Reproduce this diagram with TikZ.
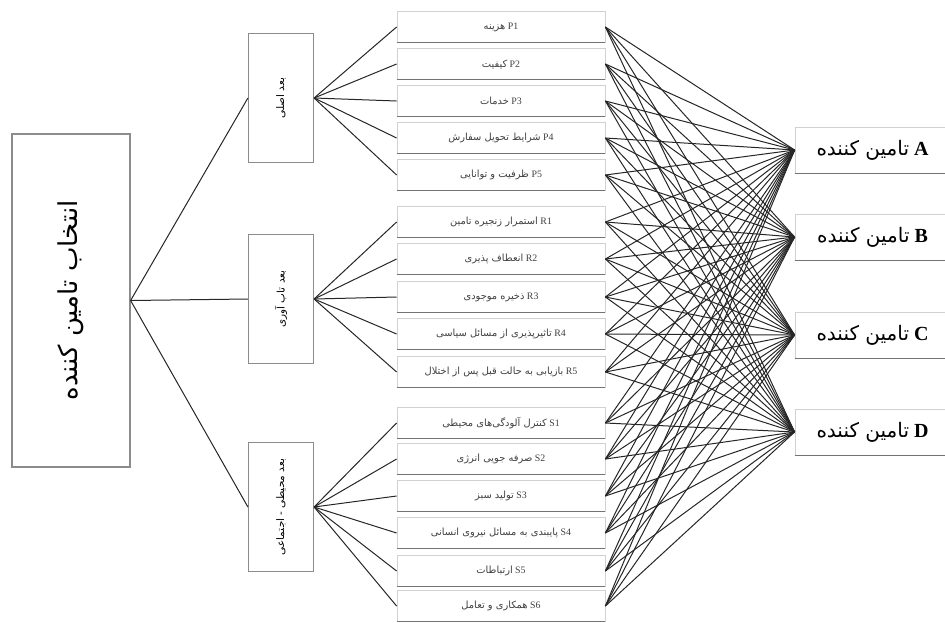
\documentclass[tikz,border=0pt]{standalone}
\usepackage{fontspec}
\usepackage{graphicx}
\setmainfont{Liberation Serif}
\newfontfamily\fa[Script=Arabic]{DejaVu Sans}
\TeXXeTstate=1
\newcommand\critlabel[2]{{\fa\beginR #1\endR}\ #2}
\newcommand\suplabel[1]{{\fa\beginR تامین کننده\endR}\ \textbf{#1}}
\tikzset{
  rootbox/.style={draw=black!45, line width=0.9pt, fill=white, minimum width=88.5pt, minimum height=249.75pt, inner sep=0pt},
  dimbox/.style={draw=black!45, line width=0.9pt, fill=white, minimum width=48.75pt, minimum height=96.75pt, inner sep=0pt},
  critbox/.style={draw=black!18, line width=0.6pt, fill=white, minimum width=156pt, minimum height=23.25pt, inner sep=0pt, text=black!75, font=\fontsize{7.4}{8.5}\selectfont},
  supbox/.style={draw=black!18, line width=0.6pt, fill=white, minimum width=116.25pt, minimum height=34.5pt, inner sep=0pt, font=\fontsize{15}{17}\selectfont},
  shade line/.style={draw=black!55, line width=0.8pt},
  link/.style={draw=black!85, line width=0.75pt},
}
\begin{document}
\begin{tikzpicture}[x=0.75pt,y=-0.75pt]
\useasboundingbox (0,0) rectangle (945,622);
% root
\node[rootbox] (root) at (71,300.5) {\rotatebox{90}{\fontsize{19.5}{22}\selectfont\fa\beginR انتخاب تامین کننده\endR}};
% dimensions
\node[dimbox] (dimA) at (281,98) {\rotatebox{90}{\fontsize{7.8}{9}\selectfont\fa\beginR بعد اصلی\endR}};
\node[dimbox] (dimB) at (281,299) {\rotatebox{90}{\fontsize{7.8}{9}\selectfont\fa\beginR بعد تاب آوری\endR}};
\node[dimbox] (dimC) at (281,507) {\rotatebox{90}{\fontsize{7.8}{9}\selectfont\fa\beginR بعد محیطی - اجتماعی\endR}};
% criteria
\foreach \n/\y/\t in {
  P1/27/هزینه, P2/64/کیفیت, P3/101/خدمات, P4/138/شرایط تحویل سفارش, P5/175/ظرفیت و توانایی,
  R1/222/استمرار زنجیره تامین, R2/259/انعطاف پذیری, R3/297/ذخیره موجودی, R4/334/تاثیرپذیری از مسائل سیاسی, R5/372/بازیابی به حالت قبل پس از اختلال,
  S1/423/کنترل آلودگی‌های محیطی, S2/459/صرفه جویی انرژی, S3/496/تولید سبز, S4/533/پایبندی به مسائل نیروی انسانی, S5/571/ارتباطات, S6/606/همکاری و تعامل}
{
  \node[critbox] (\n) at (501,\y) {\critlabel{\t}{\n}};
  \draw[shade line] (\n.south west) -- (\n.south east);
}
% suppliers
\foreach \s/\y in {A/150, B/237, C/335, D/432}
{
  \node[supbox] (sup\s) at (872.5,\y) {\suplabel{\s}};
  \draw[shade line] (sup\s.south west) -- (sup\s.south east);
}
% root links
\foreach \d in {dimA,dimB,dimC} \draw[link] (root.east) -- (\d.west);
% dimension links
\foreach \c in {P1,P2,P3,P4,P5} \draw[link] (dimA.east) -- (\c.west);
\foreach \c in {R1,R2,R3,R4,R5} \draw[link] (dimB.east) -- (\c.west);
\foreach \c in {S1,S2,S3,S4,S5,S6} \draw[link] (dimC.east) -- (\c.west);
% supplier links
\foreach \c in {P1,P2,P3,P4,P5,R1,R2,R3,R4,R5,S1,S2,S3,S4,S5,S6}
  \foreach \s in {supA,supB,supC,supD}
    \draw[link] (\c.east) -- (\s.west);
\end{tikzpicture}
\end{document}
